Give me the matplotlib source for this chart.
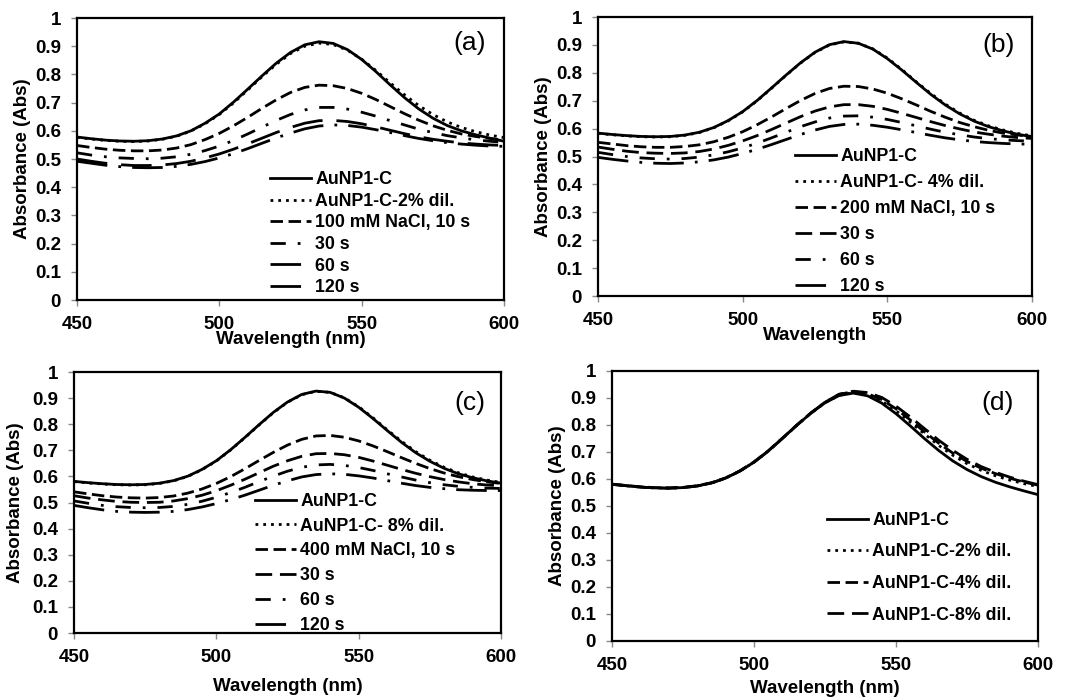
import matplotlib
matplotlib.use("Agg")
from matplotlib import pyplot as plt

plt.rcParams['font.family'] = ['Liberation Sans', 'DejaVu Sans']
plt.rcParams['font.weight'] = 'bold'

# wavelength grid (nm), 5 nm step
wl = [450, 455, 460, 465, 470, 475, 480, 485, 490, 495, 500, 505, 510, 515, 520,
      525, 530, 535, 540, 545, 550, 555, 560, 565, 570, 575, 580, 585, 590, 595, 600]

# ---- panel (a): 100 mM NaCl
a_ctrl = [0.578, 0.572, 0.567, 0.564, 0.563, 0.565, 0.571, 0.582, 0.600, 0.627, 0.660,
          0.702, 0.748, 0.795, 0.840, 0.878, 0.905, 0.916, 0.910, 0.888, 0.853, 0.810,
          0.763, 0.718, 0.678, 0.645, 0.619, 0.600, 0.586, 0.574, 0.563]
a_dil = [0.577, 0.571, 0.566, 0.563, 0.562, 0.564, 0.570, 0.581, 0.599, 0.625, 0.658,
         0.699, 0.745, 0.792, 0.836, 0.874, 0.900, 0.911, 0.906, 0.886, 0.854, 0.814,
         0.770, 0.728, 0.690, 0.658, 0.632, 0.612, 0.597, 0.585, 0.576]
a_10s = [0.548, 0.541, 0.535, 0.531, 0.529, 0.529, 0.532, 0.539, 0.551, 0.569, 0.591,
         0.618, 0.648, 0.680, 0.710, 0.736, 0.754, 0.762, 0.760, 0.750, 0.733, 0.711,
         0.686, 0.661, 0.638, 0.618, 0.602, 0.589, 0.580, 0.573, 0.567]
a_30s = [0.522, 0.514, 0.508, 0.504, 0.502, 0.501, 0.503, 0.508, 0.517, 0.530, 0.546,
         0.566, 0.589, 0.613, 0.637, 0.658, 0.674, 0.683, 0.683, 0.677, 0.666, 0.652,
         0.636, 0.621, 0.606, 0.594, 0.583, 0.575, 0.568, 0.563, 0.559]
a_60s = [0.500, 0.492, 0.485, 0.480, 0.477, 0.477, 0.479, 0.484, 0.492, 0.504, 0.518,
         0.535, 0.554, 0.574, 0.594, 0.612, 0.627, 0.636, 0.637, 0.633, 0.625, 0.614,
         0.602, 0.590, 0.579, 0.570, 0.563, 0.557, 0.553, 0.550, 0.548]
a_120s = [0.492, 0.485, 0.478, 0.473, 0.470, 0.469, 0.470, 0.474, 0.481, 0.491, 0.504,
          0.519, 0.537, 0.556, 0.575, 0.592, 0.607, 0.617, 0.621, 0.619, 0.613, 0.604,
          0.594, 0.583, 0.573, 0.565, 0.558, 0.553, 0.549, 0.546, 0.545]
a_labels = ["AuNP1-C", "AuNP1-C-2% dil.", "100 mM NaCl, 10 s", "30 s", "60 s", "120 s"]

# ---- panel (b): 200 mM NaCl
b_ctrl = [0.584, 0.579, 0.575, 0.572, 0.571, 0.572, 0.577, 0.587, 0.604, 0.629, 0.661,
          0.701, 0.746, 0.792, 0.836, 0.874, 0.901, 0.912, 0.906, 0.885, 0.851, 0.810,
          0.766, 0.723, 0.685, 0.653, 0.627, 0.607, 0.592, 0.580, 0.571]
b_dil = [0.583, 0.578, 0.574, 0.571, 0.570, 0.571, 0.576, 0.586, 0.603, 0.628, 0.660,
         0.700, 0.745, 0.791, 0.835, 0.873, 0.900, 0.911, 0.906, 0.886, 0.853, 0.812,
         0.768, 0.726, 0.688, 0.656, 0.630, 0.610, 0.595, 0.583, 0.574]
b_10s = [0.551, 0.545, 0.539, 0.535, 0.533, 0.533, 0.536, 0.542, 0.553, 0.569, 0.589,
         0.614, 0.642, 0.672, 0.701, 0.726, 0.744, 0.752, 0.751, 0.742, 0.727, 0.707,
         0.685, 0.662, 0.641, 0.622, 0.607, 0.594, 0.584, 0.577, 0.572]
b_30s = [0.534, 0.526, 0.519, 0.514, 0.512, 0.511, 0.513, 0.518, 0.527, 0.540, 0.556,
         0.575, 0.597, 0.620, 0.643, 0.663, 0.678, 0.686, 0.686, 0.680, 0.669, 0.655,
         0.640, 0.625, 0.611, 0.599, 0.588, 0.580, 0.573, 0.568, 0.565]
b_60s = [0.515, 0.507, 0.500, 0.495, 0.492, 0.491, 0.493, 0.498, 0.506, 0.517, 0.531,
         0.548, 0.567, 0.587, 0.607, 0.624, 0.638, 0.645, 0.646, 0.641, 0.633, 0.622,
         0.610, 0.598, 0.587, 0.578, 0.570, 0.564, 0.560, 0.557, 0.555]
b_120s = [0.497, 0.490, 0.484, 0.479, 0.476, 0.475, 0.477, 0.481, 0.488, 0.498, 0.511,
          0.526, 0.543, 0.561, 0.579, 0.595, 0.608, 0.615, 0.616, 0.612, 0.605, 0.596,
          0.586, 0.576, 0.567, 0.560, 0.554, 0.550, 0.547, 0.545, 0.544]
b_labels = ["AuNP1-C", "AuNP1-C- 4% dil.", "200 mM NaCl, 10 s", "30 s", "60 s", "120 s"]

# ---- panel (c): 400 mM NaCl
c_ctrl = [0.581, 0.576, 0.572, 0.569, 0.568, 0.569, 0.574, 0.584, 0.601, 0.627, 0.660,
          0.702, 0.749, 0.798, 0.845, 0.885, 0.914, 0.927, 0.922, 0.900, 0.865, 0.822,
          0.776, 0.731, 0.691, 0.658, 0.631, 0.610, 0.595, 0.583, 0.574]
c_dil = [0.580, 0.575, 0.571, 0.568, 0.567, 0.568, 0.573, 0.583, 0.600, 0.626, 0.659,
         0.701, 0.748, 0.797, 0.844, 0.884, 0.913, 0.926, 0.922, 0.901, 0.867, 0.825,
         0.779, 0.735, 0.695, 0.662, 0.635, 0.614, 0.598, 0.586, 0.577]
c_10s = [0.541, 0.533, 0.526, 0.521, 0.518, 0.517, 0.519, 0.525, 0.536, 0.552, 0.573,
         0.599, 0.629, 0.661, 0.692, 0.720, 0.742, 0.755, 0.757, 0.750, 0.736, 0.717,
         0.695, 0.672, 0.650, 0.630, 0.613, 0.599, 0.588, 0.579, 0.573]
c_30s = [0.526, 0.517, 0.510, 0.504, 0.501, 0.500, 0.501, 0.506, 0.515, 0.528, 0.545,
         0.566, 0.589, 0.614, 0.639, 0.660, 0.677, 0.687, 0.688, 0.683, 0.673, 0.659,
         0.643, 0.627, 0.612, 0.599, 0.588, 0.579, 0.572, 0.567, 0.564]
c_60s = [0.506, 0.497, 0.489, 0.484, 0.481, 0.480, 0.481, 0.485, 0.493, 0.505, 0.520,
         0.538, 0.558, 0.580, 0.601, 0.620, 0.635, 0.644, 0.646, 0.642, 0.634, 0.623,
         0.610, 0.598, 0.586, 0.576, 0.568, 0.562, 0.558, 0.555, 0.554]
c_120s = [0.489, 0.480, 0.472, 0.466, 0.463, 0.462, 0.463, 0.466, 0.473, 0.483, 0.496,
          0.511, 0.528, 0.547, 0.566, 0.583, 0.598, 0.607, 0.610, 0.608, 0.602, 0.594,
          0.584, 0.574, 0.565, 0.558, 0.553, 0.549, 0.547, 0.546, 0.546]
c_labels = ["AuNP1-C", "AuNP1-C- 8% dil.", "400 mM NaCl, 10 s", "30 s", "60 s", "120 s"]

# ---- panel (d): dilution controls only
d_ctrl = [0.580, 0.575, 0.570, 0.567, 0.566, 0.568, 0.574, 0.585, 0.603, 0.629, 0.662,
          0.703, 0.750, 0.798, 0.843, 0.882, 0.909, 0.918, 0.908, 0.881, 0.842, 0.797,
          0.750, 0.706, 0.667, 0.635, 0.609, 0.588, 0.571, 0.556, 0.542]
d_dil2 = [0.580, 0.575, 0.570, 0.567, 0.566, 0.568, 0.574, 0.585, 0.603, 0.629, 0.662,
          0.703, 0.750, 0.798, 0.843, 0.882, 0.910, 0.920, 0.912, 0.889, 0.853, 0.811,
          0.767, 0.725, 0.688, 0.657, 0.632, 0.612, 0.596, 0.583, 0.572]
d_dil4 = [0.581, 0.576, 0.571, 0.568, 0.567, 0.569, 0.575, 0.586, 0.604, 0.630, 0.663,
          0.704, 0.751, 0.799, 0.844, 0.884, 0.913, 0.924, 0.916, 0.894, 0.860, 0.819,
          0.775, 0.733, 0.696, 0.665, 0.640, 0.620, 0.603, 0.589, 0.577]
d_dil8 = [0.580, 0.575, 0.570, 0.567, 0.566, 0.568, 0.574, 0.585, 0.603, 0.629, 0.662,
          0.703, 0.750, 0.798, 0.844, 0.884, 0.914, 0.925, 0.920, 0.902, 0.870, 0.830,
          0.787, 0.744, 0.706, 0.673, 0.646, 0.625, 0.607, 0.592, 0.579]
d_labels = ["AuNP1-C", "AuNP1-C-2% dil.", "AuNP1-C-4% dil.", "AuNP1-C-8% dil."]

# line styles (excel-ish), in units of line width
solid = '-'
dotted = (0, (1, 1.8))
dashed = (0, (4.5, 2))
mid_dash = (0, (6, 2.8))
dash_dot = (0, (5.5, 4.3, 1, 4.3))
long_dash = (0, (11, 5))
long_dash_dot = (0, (11, 4, 1, 4))

panels = [
    # rect, series, labels, styles, letter, xlabel, letter pos, legend anchor,
    # labelspacing, xlabel pad, ylabel pad
    ([0.0717, 0.5708, 0.3976, 0.4034], [a_ctrl, a_dil, a_10s, a_30s, a_60s, a_120s], a_labels,
     [solid, dotted, dashed, dash_dot, long_dash, long_dash_dot], "(a)", "Wavelength (nm)",
     (0.92, 0.91), (0.452, 0.457), 0.26, -1.5, 3),
    ([0.5568, 0.5765, 0.4041, 0.3991], [b_ctrl, b_dil, b_10s, b_30s, b_60s, b_120s], b_labels,
     [solid, dotted, dashed, mid_dash, dash_dot, long_dash_dot], "(b)", "Wavelength",
     (0.922, 0.90), (0.454, 0.531), 0.51, -1.5, 3),
    ([0.0689, 0.0944, 0.3976, 0.3734], [c_ctrl, c_dil, c_10s, c_30s, c_60s, c_120s], c_labels,
     [solid, dotted, dashed, mid_dash, dash_dot, long_dash_dot], "(c)", "Wavelength (nm)",
     (0.927, 0.881), (0.424, 0.537), 0.44, 8.5, 6),
    ([0.5698, 0.0830, 0.3966, 0.3863], [d_ctrl, d_dil2, d_dil4, d_dil8], d_labels,
     [solid, dotted, dashed, mid_dash], "(d)", "Wavelength (nm)",
     (0.906, 0.881), (0.505, 0.478), 0.82, 4.5, 3),
]

fig = plt.figure(figsize=(10.74, 6.99), dpi=100)

for rect, series, labels, styles, letter, xlab, lpos, anchor, lspace, xpad, ypad in panels:
    ax = fig.add_axes(rect)
    for y, lab, ls in zip(series, labels, styles):
        ax.plot(wl, y, color='black', lw=2.0, linestyle=ls, label=lab)
    ax.set_xlim(450, 600)
    ax.set_ylim(0, 1)
    ax.set_xticks([450, 500, 550, 600])
    ax.set_yticks([0, 0.1, 0.2, 0.3, 0.4, 0.5, 0.6, 0.7, 0.8, 0.9, 1])
    ax.set_yticklabels(["0", "0.1", "0.2", "0.3", "0.4", "0.5", "0.6", "0.7", "0.8", "0.9", "1"])
    ax.tick_params(direction='out', length=4, width=1, color='#888888',
                   labelsize=13.5, pad=7.5)
    for sp in ax.spines.values():
        sp.set_linewidth(1.6)
        sp.set_color('black')
    ax.set_ylabel("Absorbance (Abs)", fontsize=13.5, fontweight='bold', labelpad=ypad)
    ax.set_xlabel(xlab, fontsize=13.5, fontweight='bold', labelpad=xpad)
    ax.text(lpos[0], lpos[1], letter, transform=ax.transAxes, fontsize=19,
            fontweight='normal', ha='center', va='center')
    ax.legend(loc='upper left', bbox_to_anchor=anchor, frameon=False, fontsize=12.8,
              handlelength=2.3, handletextpad=0.25, labelspacing=lspace,
              borderpad=0, borderaxespad=0)

plt.savefig("out.png", dpi=100)
